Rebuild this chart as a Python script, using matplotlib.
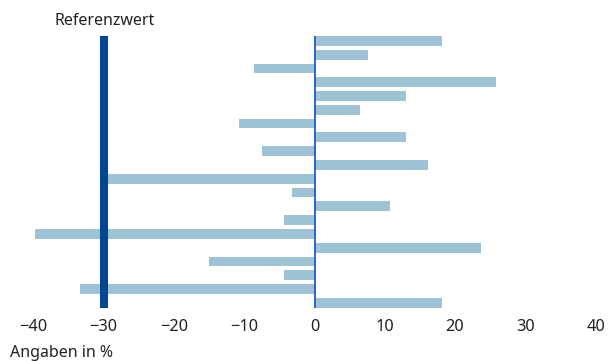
import numpy as np
import matplotlib.pyplot as plt

plt.rcParams['font.family'] = ['Noto Sans', 'DejaVu Sans']

# Abweichungen je Zeile in %, von oben nach unten
werte = [18.2, 7.6, -8.6, 25.8, 13.0, 6.5, -10.7, 13.0, -7.5, 16.2,
         -29.6, -3.2, 10.7, -4.3, -39.8, 23.7, -15.0, -4.3, -33.4, 18.2]
referenz = -30
x_ticks = [-40, -30, -20, -10, 0, 10, 20, 30, 40]

fig = plt.figure(figsize=(6.11, 3.61), dpi=100)
ax = fig.add_axes([0.0547, 0.1476, 0.9201, 0.7526])

pos = np.arange(len(werte))
ax.barh(pos, werte, height=0.71, color='#9fc2d4', zorder=2)
ax.axvline(0, color='#1a5cc0', lw=1.3, zorder=3)
ax.axvline(referenz, color='#00478f', lw=5.8, zorder=4)

ax.set_xlim(-40, 40)
ax.set_ylim(len(werte) - 0.65, -0.35)
ax.set_xticks(x_ticks)
ax.set_xticklabels([str(t).replace('-', '\u2212') for t in x_ticks])
ax.set_yticks([])
ax.tick_params(axis='x', length=0, pad=8, labelsize=11.8, labelcolor='#222222')
for s in ax.spines.values():
    s.set_visible(False)

fig.text(55 / 611, 1 - 25 / 361, 'Referenzwert', fontsize=11.5, color='#222222',
         ha='left', va='baseline')
fig.text(10 / 611, 1 - 357 / 361, 'Angaben in %', fontsize=11.5, color='#222222',
         ha='left', va='baseline')

fig.savefig('out.png', dpi=100)
